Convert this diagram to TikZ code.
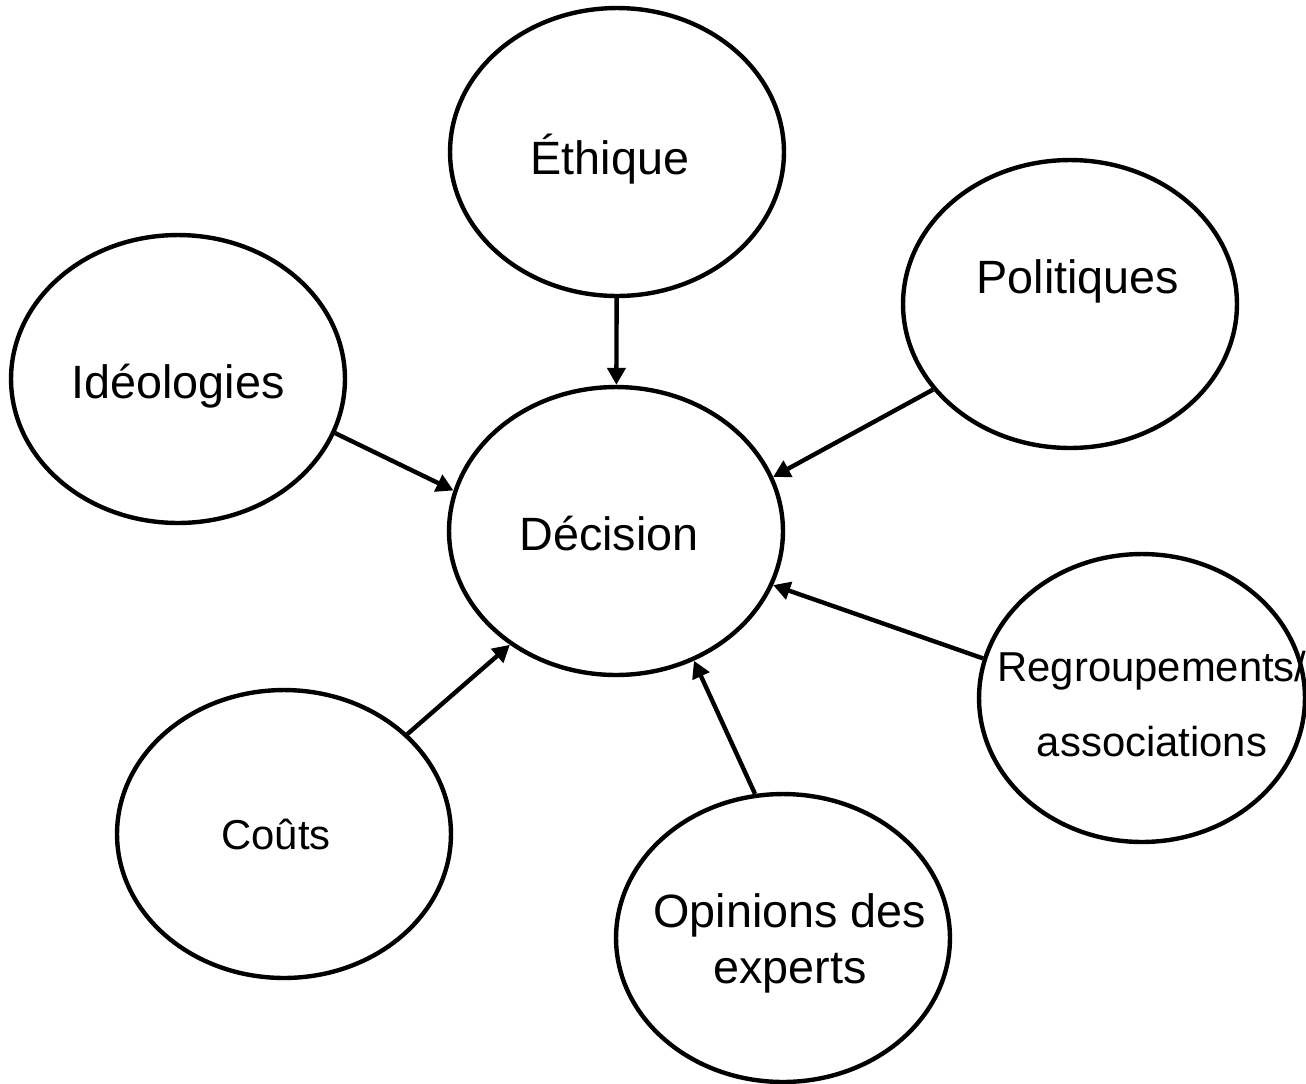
\documentclass[tikz,border=0pt]{standalone}
\usepackage{fontspec}
\setmainfont{Liberation Sans}
\usetikzlibrary{shapes.geometric, arrows.meta}
\tikzset{bulle/.style = {draw, ellipse, line width = 2.5pt, minimum width = 6.68cm, minimum height = 5.76cm}}
\tikzset{grand/.style = {font = \fontsize{26.6pt}{31.9pt}\selectfont, align = center}}
\tikzset{petit/.style = {font = \fontsize{23.8pt}{28.6pt}\selectfont, align = center}}
\tikzset{fleche/.style = {-{Triangle[length = 0.34cm, width = 0.36cm]}, line width = 2.5pt}}

\begin{document}
\begin{tikzpicture}[x = 0.02cm, y = -0.02cm]
	\useasboundingbox (0,0) rectangle (1306,1083);

	\node (d)[bulle, label = {[grand, xshift = -0.14cm, yshift = -0.06cm]center:Décision}] at (616,531) {};
	\node (e)[bulle, label = {[grand, xshift = -0.14cm, yshift = -0.14cm]center:Éthique}] at (617,152) {};
	\node (p)[bulle, label = {[grand, xshift = 0.16cm, yshift = 0.46cm]center:Politiques}] at (1070,304) {};
	\node (i)[bulle, label = {[grand, yshift = -0.14cm]center:Idéologies}] at (178,379) {};
	\node (r)[bulle, minimum width = 6.52cm, label = {[petit, xshift = 0.2cm, yshift = -0.12cm]center:Regroupements/\\[0.49cm]associations}] at (1142,698) {};
	\node (c)[bulle, label = {[petit, xshift = -0.16cm]center:Coûts}] at (284,834) {};
	\node (o)[bulle, label = {[grand, xshift = 0.14cm, yshift = -0.1cm]center:Opinions des\\experts}] at (783,938) {};

	\draw [fleche](e)--(d);
	\draw [fleche](i.-19.6)--(d.166.8);
	\draw [fleche](p.-148.5)--(d.19);
	\draw [fleche](r.166.5)--(d.-19.1);
	\draw [fleche](c.39.4)--(d.227.3);
	\draw [fleche](o.101.8)--(d.-59.5);
\end{tikzpicture}
\end{document}
